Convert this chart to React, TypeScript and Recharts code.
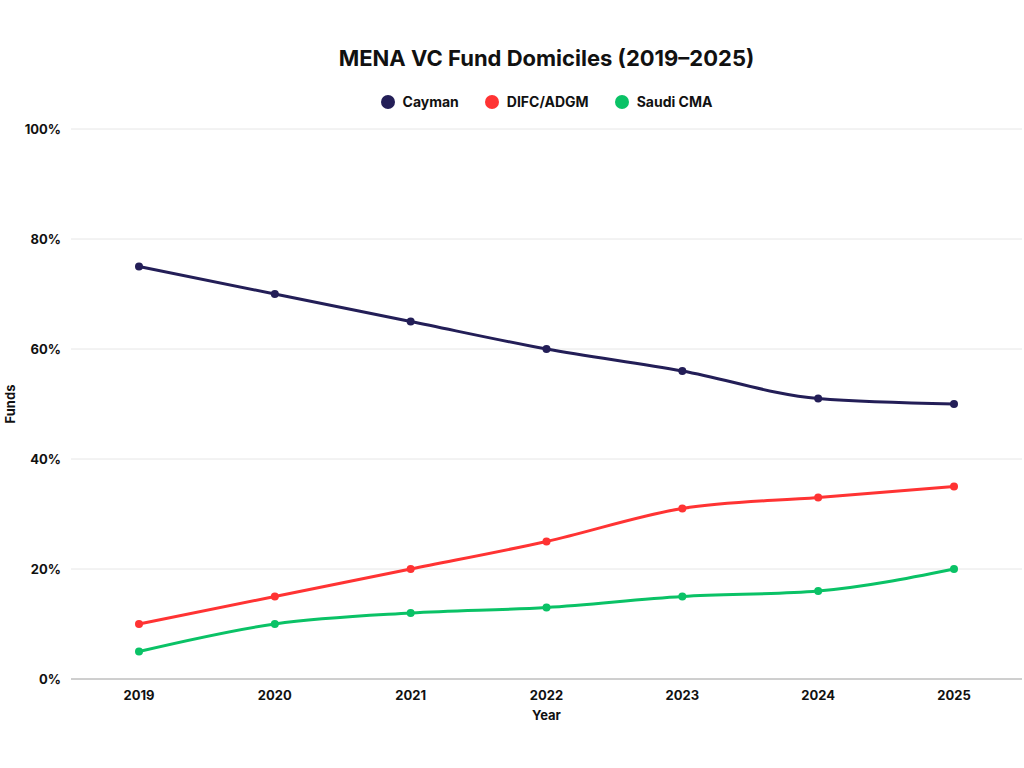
import { LineChart, Line, XAxis, YAxis, CartesianGrid } from "recharts";

const years = ["2019", "2020", "2021", "2022", "2023", "2024", "2025"];
const cayman = [75, 70, 65, 60, 56, 51, 50];
const difc = [10, 15, 20, 25, 31, 33, 35];
const saudi = [5, 10, 12, 13, 15, 16, 20];
const yTicks = [0, 20, 40, 60, 80, 100];

const SERIES = [
  { key: "cayman", name: "Cayman", color: "#231e57" },
  { key: "difc", name: "DIFC/ADGM", color: "#ff3333" },
  { key: "saudi", name: "Saudi CMA", color: "#0ac266" },
];

const data = years.map((year, i) => ({
  year,
  cayman: cayman[i],
  difc: difc[i],
  saudi: saudi[i],
}));

const FONT = "Inter, 'Noto Sans', sans-serif";

function ChartLegend() {
  return (
    <div style={{ position: "absolute", top: 93, left: 71, width: 951, display: "flex", justifyContent: "center", gap: 26, fontWeight: 700, fontSize: 14, color: "#111" }}>
      {SERIES.map((s) => (
        <div key={s.key} style={{ display: "flex", alignItems: "center", gap: 8 }}>
          <span style={{ width: 14, height: 14, borderRadius: 7, background: s.color, display: "inline-block" }} />
          <span>{s.name}</span>
        </div>
      ))}
    </div>
  );
}

export default function App() {
  return (
    <div style={{ position: "absolute", left: 0, top: 0, width: 1024, height: 768, background: "#fff", fontFamily: FONT }}>
      <div style={{ position: "absolute", top: 45, left: 71, width: 951, textAlign: "center", fontSize: 22, fontWeight: 700, color: "#111" }}>
        MENA VC Fund Domiciles (2019–2025)
      </div>
      <ChartLegend />
      <LineChart width={1024} height={768} data={data} margin={{ top: 129, right: 2, bottom: 39, left: 8 }}>
        <CartesianGrid vertical={false} stroke="#e6e6e6" />
        <XAxis
          dataKey="year"
          padding={{ left: 68, right: 68 }}
          tickLine={false}
          axisLine={{ stroke: "#aaa" }}
          tick={{ fill: "#111", fontSize: 13, fontWeight: 700, fontFamily: FONT }}
          tickMargin={6}
          height={50}
          label={{ value: "Year", position: "insideBottom", offset: 9, fill: "#111", fontSize: 13, fontWeight: 700, fontFamily: FONT }}
        />
        <YAxis
          domain={[0, 100]}
          ticks={yTicks}
          tickFormatter={(v) => `${v}%`}
          axisLine={false}
          tickLine={false}
          tickSize={0}
          tickMargin={10}
          width={63}
          tick={{ fill: "#111", fontSize: 13, fontWeight: 700, fontFamily: FONT }}
          label={{ value: "Funds", angle: -90, position: "insideLeft", offset: 2, fill: "#111", fontSize: 13, fontWeight: 700, fontFamily: FONT, style: { textAnchor: "middle" } }}
        />
        {SERIES.map((s) => (
          <Line
            key={s.key}
            type="monotone"
            dataKey={s.key}
            name={s.name}
            stroke={s.color}
            strokeWidth={3}
            dot={{ r: 4, fill: s.color, stroke: s.color, strokeWidth: 0 }}
            activeDot={false}
            isAnimationActive={false}
          />
        ))}
      </LineChart>
    </div>
  );
}
